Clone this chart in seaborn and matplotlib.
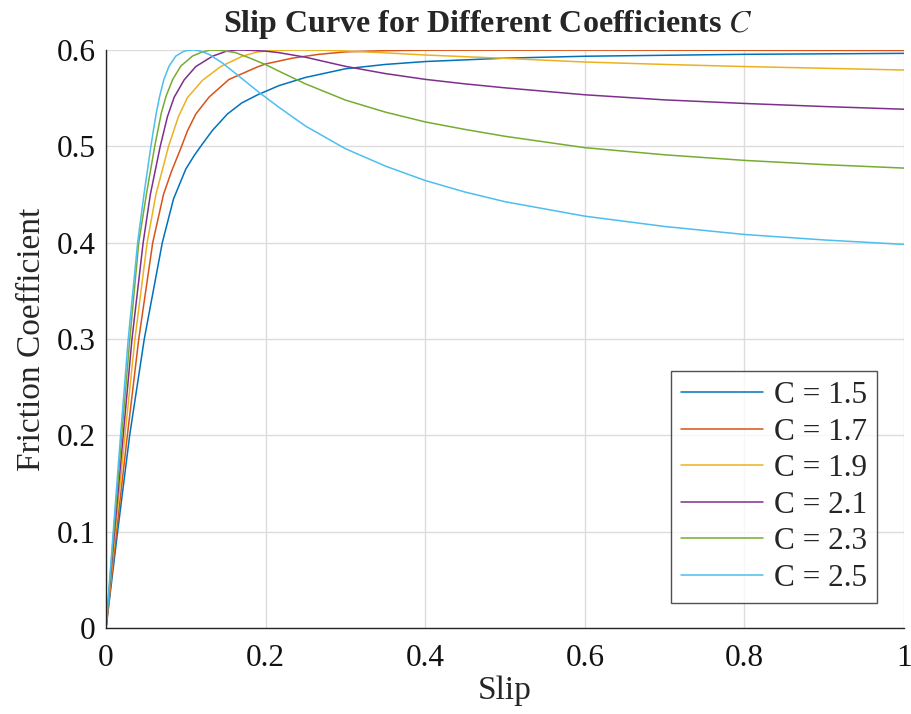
import numpy as np
import pandas as pd
import matplotlib
matplotlib.use("Agg")
import matplotlib.pyplot as plt
import seaborn as sns
from matplotlib.ticker import FuncFormatter

# ---------------- data ----------------
labels = ["C = 1.5", "C = 1.7", "C = 1.9", "C = 2.1", "C = 2.3", "C = 2.5"]
colors = ["#0072BD", "#D95319", "#EDB120", "#7E2F8E", "#77AC30", "#4DBEEE"]

slip_c15 = [0, 0.0145, 0.0296, 0.0479, 0.0705, 0.0846, 0.100, 0.1105, 0.1208, 0.1333, 0.152,
            0.170, 0.19, 0.2167, 0.25, 0.3, 0.35, 0.4, 0.5, 0.6, 0.7, 0.8, 0.9, 1.0]
mu_c15 = [0, 0.1, 0.2, 0.3, 0.4, 0.4455, 0.4765, 0.4905, 0.5025, 0.5165, 0.5335,
          0.545, 0.5535, 0.563, 0.5715, 0.5805, 0.585, 0.588, 0.5915, 0.5935, 0.5945, 0.5955, 0.596, 0.5965]

slip_c17 = [0, 0.0131, 0.0267, 0.041, 0.0585, 0.072, 0.082, 0.0937, 0.102, 0.1125, 0.129, 0.154,
            0.19, 0.2, 0.2333, 0.2667, 0.3, 0.35, 0.4, 0.6, 0.8, 1.0]
mu_c17 = [0, 0.1, 0.2, 0.3, 0.4, 0.45, 0.474, 0.498, 0.516, 0.5335, 0.551, 0.5694,
          0.5825, 0.5855, 0.5915, 0.5955, 0.598, 0.5993, 0.5998, 0.5999, 0.5997, 0.5995]

slip_c19 = [0, 0.0117, 0.0237, 0.0362, 0.0515, 0.0625, 0.0783, 0.0908, 0.102, 0.1208, 0.1437,
            0.1708, 0.19, 0.21, 0.24, 0.28, 0.3, 0.35, 0.4, 0.5, 0.6, 0.7, 0.8, 0.9, 1.0]
mu_c19 = [0, 0.1, 0.2, 0.3, 0.4, 0.45, 0.5, 0.531, 0.5505, 0.5685, 0.5828,
          0.5935, 0.598, 0.5995, 0.6, 0.5997, 0.599, 0.597, 0.5948, 0.5913, 0.5875, 0.585, 0.5828, 0.581, 0.5792]

slip_c21 = [0, 0.0106, 0.0215, 0.0325, 0.0465, 0.0555, 0.0679, 0.077, 0.0854, 0.0979,
            0.1125, 0.1333, 0.15, 0.1646, 0.18, 0.2, 0.2167, 0.25, 0.3, 0.35, 0.4, 0.45, 0.5, 0.6, 0.7, 0.8, 0.9, 1.0]
mu_c21 = [0, 0.1, 0.2, 0.3, 0.4, 0.45, 0.5, 0.531, 0.551, 0.569,
          0.5828, 0.5935, 0.5985, 0.6, 0.5997, 0.5988, 0.5972, 0.5925, 0.583, 0.5755, 0.5695, 0.5648, 0.5607, 0.5535, 0.5482, 0.5445, 0.5413, 0.5385]

slip_c23 = [0, 0.0097, 0.0197, 0.0298, 0.041, 0.0505, 0.061, 0.0693, 0.0752, 0.0835, 0.0937,
            0.1083, 0.12, 0.131, 0.145, 0.1625, 0.179, 0.2, 0.2167, 0.25, 0.3, 0.35, 0.4, 0.45, 0.5,
            0.6, 0.7, 0.8, 0.9, 1.0]
mu_c23 = [0, 0.1, 0.2, 0.3, 0.4, 0.45, 0.5, 0.5347, 0.552, 0.5694, 0.5833,
          0.5937, 0.5978, 0.6, 0.5995, 0.5972, 0.592, 0.5848, 0.578, 0.5648, 0.548, 0.5355, 0.5253, 0.5175, 0.5104,
          0.4986, 0.4912, 0.4854, 0.481, 0.4774]

slip_c25 = [0, 0.009, 0.0182, 0.0278, 0.0396, 0.0475, 0.0562, 0.0595, 0.063, 0.0672, 0.0725,
            0.079, 0.0875, 0.097, 0.1025, 0.1083, 0.113, 0.118, 0.129, 0.1458, 0.1625, 0.179, 0.1917,
            0.2167, 0.25, 0.3, 0.35, 0.4, 0.45, 0.5, 0.6, 0.7, 0.8, 0.9, 1.0]
mu_c25 = [0, 0.1, 0.2, 0.3, 0.4, 0.45, 0.5, 0.5174, 0.5347, 0.552, 0.5694,
          0.5833, 0.5937, 0.5985, 0.5996, 0.6, 0.5997, 0.599, 0.5955, 0.5865, 0.5755, 0.5645, 0.556,
          0.5405, 0.521, 0.4975, 0.4795, 0.4645, 0.4525, 0.4425, 0.4275, 0.4168, 0.4085, 0.4028, 0.3982]

x_ticks = [0, 0.2, 0.4, 0.6, 0.8, 1.0]
y_ticks = [0, 0.1, 0.2, 0.3, 0.4, 0.5, 0.6]

series = [(slip_c15, mu_c15), (slip_c17, mu_c17), (slip_c19, mu_c19),
          (slip_c21, mu_c21), (slip_c23, mu_c23), (slip_c25, mu_c25)]
frames = []
for lab, (sx, sy) in zip(labels, series):
    frames.append(pd.DataFrame({"Slip": sx, "Friction": sy, "curve": lab}))
df = pd.concat(frames, ignore_index=True)

# ---------------- style ----------------
sns.set_style("white")
plt.rcParams["font.family"] = ["Liberation Serif", "DejaVu Serif"]
plt.rcParams["mathtext.fontset"] = "stix"

fig = plt.figure(figsize=(9.11, 7.14), dpi=100)
ax = fig.add_axes([0.1164, 0.1204, 0.8760, 0.8096])

sns.lineplot(data=df, x="Slip", y="Friction", hue="curve", hue_order=labels,
             palette=colors, estimator=None, sort=False, linewidth=1.1, ax=ax)

ax.set_xlim(0, 1)
ax.set_ylim(0, 0.6)
ax.set_xticks(x_ticks)
ax.set_yticks(y_ticks)
fmt = FuncFormatter(lambda v, p: f"{v:g}")
ax.xaxis.set_major_formatter(fmt)
ax.yaxis.set_major_formatter(fmt)
ax.grid(True, color="#dcdcdc", linewidth=1.0)
ax.set_axisbelow(True)
for s in ["top", "right"]:
    ax.spines[s].set_visible(False)
for s in ["left", "bottom"]:
    ax.spines[s].set_color("#262626")
    ax.spines[s].set_linewidth(1.0)
ax.tick_params(axis="both", direction="in", length=7, width=1.0, color="#262626",
               labelsize=22.5, labelcolor="#111111")
ax.tick_params(axis="x", pad=11.5)
ax.tick_params(axis="y", pad=7.5)

ax.set_xlabel("Slip", fontsize=24, labelpad=2)
ax.set_ylabel("Friction Coefficient", fontsize=24, labelpad=7)
ax.set_title("Slip Curve for Different Coefficients $\\mathregular{\\mathit{C}}$",
             fontsize=23, fontweight="bold", pad=13, x=0.479)

leg = ax.legend(loc="lower right", bbox_to_anchor=(0.966, 0.043), borderaxespad=0,
                fontsize=22.5, frameon=True, fancybox=False, handlelength=2.6,
                handletextpad=0.35, labelspacing=0.24, borderpad=0.33)
leg.get_frame().set_edgecolor("#262626")
leg.get_frame().set_linewidth(1.0)
for l in leg.get_lines():
    l.set_linewidth(1.1)

fig.savefig("out.png", dpi=100)
